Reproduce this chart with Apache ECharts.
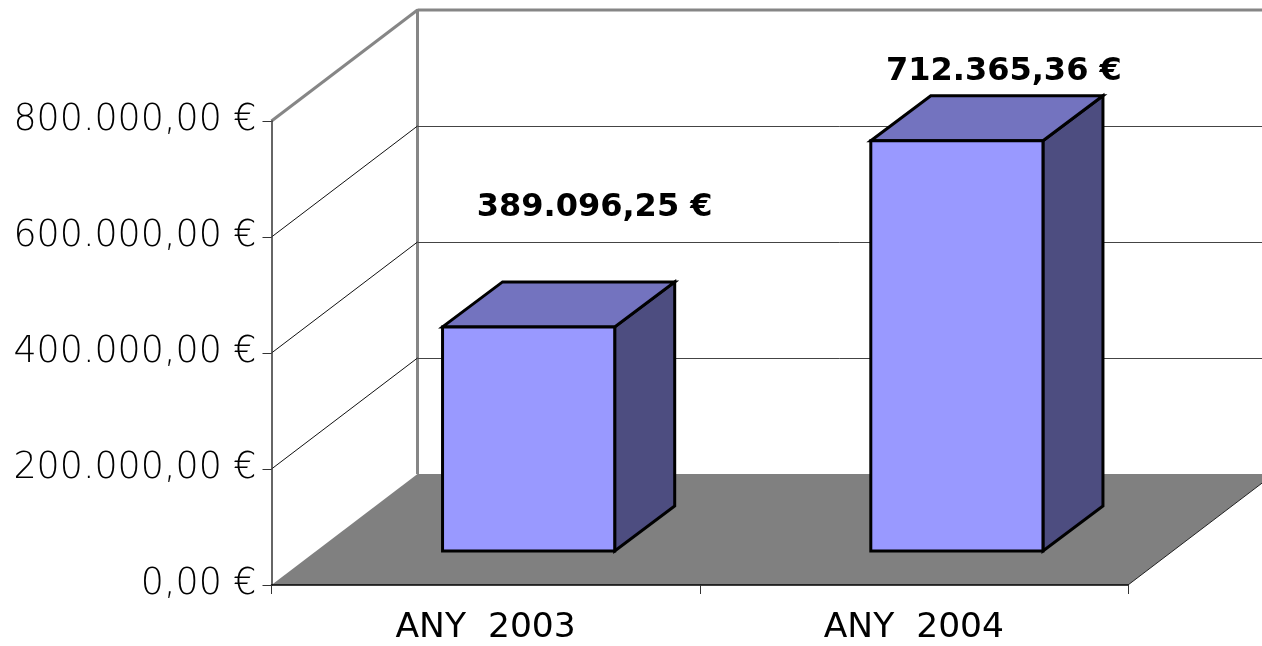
<!DOCTYPE html>
<html><head><meta charset="utf-8">
<style>html,body{margin:0;padding:0;background:#fff}#c{width:1262px;height:646px}</style>
<script src="https://cdn.jsdelivr.net/npm/echarts@6/dist/echarts.min.js"></script>
</head><body><div id="c"></div>
<script>
const categories = ['ANY  2003', 'ANY  2004'];
const values = [389096.25, 712365.36];
const yTicks = [0, 200000, 400000, 600000, 800000];

// style constants (pixels)
const WALL = [146, -111];
const BAR_SHIFT = [43, -34];
const BAR_DEPTH = [60, -45];
const BAR_WIDTH_RATIO = 0.402;
const BAR_SCALE = 0.993;
const LABEL_CENTER_OFFSET = [[66, -74], [47, -24]];
const SANS = '"DejaVu Sans", Verdana, sans-serif';

const fmt = (v, d) => {
  const [i, f] = v.toFixed(d).split('.');
  return i.replace(/\B(?=(\d{3})+$)/g, '.') + ',' + f + ' €';
};
const line = (a, b, stroke, w) => ({type: 'line', shape: {x1: a[0], y1: a[1], x2: b[0], y2: b[1]}, style: {stroke, lineWidth: w}});
const poly = (points, fill, stroke, w) => ({type: 'polygon', shape: {points}, style: {fill, stroke: stroke || null, lineWidth: w || 0, lineJoin: 'miter'}});

const chart = echarts.init(document.getElementById('c'), null, {renderer: 'canvas'});
chart.setOption({
  animation: false,
  backgroundColor: '#fff',
  grid: {left: 271.5, right: 134, top: 121, bottom: 61, containLabel: false},
  xAxis: {
    type: 'category', data: categories, z: 5,
    axisLine: {lineStyle: {color: '#000', width: 1.5}},
    axisTick: {show: true, length: 9, alignWithLabel: false, lineStyle: {color: '#333', width: 1}},
    axisLabel: {color: '#000', fontSize: 34.5, fontFamily: SANS, margin: 26, interval: 0}
  },
  yAxis: {
    type: 'value', min: 0, max: 800000, interval: 200000, z: 5,
    axisLine: {show: true, lineStyle: {color: '#333', width: 1.5}},
    axisTick: {show: true, length: 9, lineStyle: {color: '#333', width: 1}},
    splitLine: {show: false},
    axisLabel: {color: '#000', fontSize: 36.4, fontFamily: '"DejaVu Sans ExtraLight", "DejaVu Sans"', fontWeight: 200, margin: 15,
      padding: [0, 0, 8, 0], formatter: v => fmt(v, 2)}
  },
  series: [
    { // floor and walls
      type: 'custom', coordinateSystem: 'cartesian2d', z: 1, silent: true,
      data: yTicks.map(v => [0, v]),
      renderItem(params, api) {
        const v = api.value(1);
        const yPx = api.coord([0, v])[1];
        const left = params.coordSys.x, right = left + params.coordSys.width;
        const W = api.getWidth();
        const back = [left + WALL[0], yPx + WALL[1]];
        const children = [];
        if (v === 0) {
          const t = (W - right) / WALL[0];
          const edge = [W, yPx + WALL[1] * t];
          children.push(poly([[left, yPx], back, [W, back[1]], edge, [right, yPx]], '#808080'));
          children.push(line([right, yPx], edge, '#222', 1));
          children.push(line([back[0], back[1]], [back[0], yPx + WALL[1] - 465], '#868686', 3));
        } else if (v === 800000) {
          children.push(line([left, yPx], back, '#868686', 3));
          children.push(line(back, [W, back[1]], '#868686', 3));
        } else {
          children.push(line([left, yPx], back, '#111', 1));
          children.push(line([back[0], back[1] + 0.5], [W, back[1] + 0.5], '#444', 1));
        }
        return {type: 'group', children};
      }
    },
    { // bars
      type: 'custom', coordinateSystem: 'cartesian2d', z: 3, silent: true,
      data: values.map((v, i) => [i, v]),
      renderItem(params, api) {
        const i = api.value(0), v = api.value(1);
        const base = api.coord([i, 0]);
        const top = api.coord([i, v]);
        const w = api.size([1, 0])[0] * BAR_WIDTH_RATIO;
        const h = (base[1] - top[1]) * BAR_SCALE;
        const x0 = base[0] + BAR_SHIFT[0] - w / 2, x1 = x0 + w;
        const yb = base[1] + BAR_SHIFT[1], yt = yb - h;
        const dx = BAR_DEPTH[0], dy = BAR_DEPTH[1];
        const off = LABEL_CENTER_OFFSET[i];
        return {type: 'group', children: [
          poly([[x1, yt], [x1 + dx, yt + dy], [x1 + dx, yb + dy], [x1, yb]], '#4D4D80', '#000', 3),
          poly([[x0, yt], [x0 + dx, yt + dy], [x1 + dx, yt + dy], [x1, yt]], '#7373BF', '#000', 3),
          poly([[x0, yt], [x1, yt], [x1, yb], [x0, yb]], '#9999FF', '#000', 3),
          {type: 'text', style: {
            text: fmt(v, 2), x: base[0] + BAR_SHIFT[0] + off[0], y: yt + dy + off[1],
            fill: '#000', font: 'bold 32px "DejaVu Sans"', align: 'center', verticalAlign: 'middle'}}
        ]};
      }
    }
  ]
});
</script></body></html>
